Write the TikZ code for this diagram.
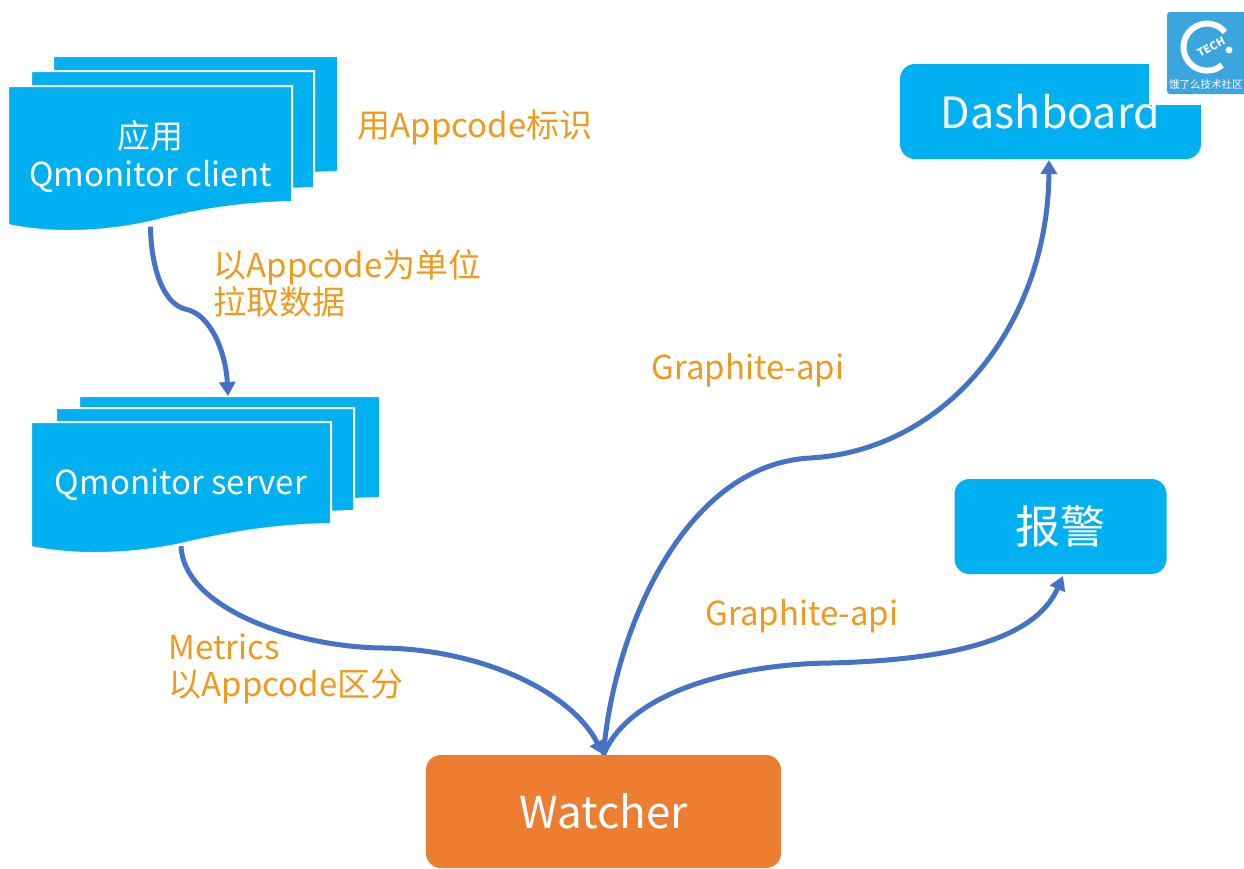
\documentclass[tikz,border=0pt]{standalone}
\usepackage{fontspec}
\setmainfont{Noto Sans CJK SC}
\usetikzlibrary{arrows.meta}

\definecolor{boxblue}{HTML}{00B0F0}
\definecolor{arrowblue}{HTML}{4472C4}
\definecolor{labelorange}{HTML}{EE9A1E}
\definecolor{watcherorange}{HTML}{ED7D31}
\definecolor{logoblue}{HTML}{3BA5E0}

\tikzset{
	flow/.style={draw=arrowblue,line width=5pt,-{Triangle[length=14pt,width=16pt]}},
	sheetbox/.style={fill=boxblue,draw=white,line width=2pt},
	sheettext/.style={text=white,align=center,font=\fontsize{33}{38}\selectfont},
	roundbox/.style={fill=boxblue,rounded corners=15pt,text=white,font=\fontsize{43}{50}\selectfont},
	note/.style={text=labelorange,align=left,anchor=west,font=\fontsize{33}{37}\selectfont},
}

% one sheet of a stack: left, top, width, height
\newcommand{\docsheet}[4]{
	\draw[sheetbox] (#1,#2) -- (#1+#3,#2) -- (#1+#3,#2+#4)
	.. controls (#1+0.8*#3,#2+#4+1) and (#1+0.64*#3,#2+#4+10) .. (#1+0.5*#3,#2+#4+20)
	.. controls (#1+0.376*#3,#2+#4+28) and (#1+0.18*#3,#2+#4+34) .. (#1,#2+#4+23) -- cycle;
}

\begin{document}
\begin{tikzpicture}[x=1pt,y=-1pt]
	\useasboundingbox (0,0) rectangle (1244,868);

	% stacks of sheets
	\foreach \x/\y/\w/\h in {53/56/285/116,31/71/283/117,8/86/284/116}
	{\docsheet{\x}{\y}{\w}{\h}}
	\foreach \x/\y/\w/\h in {79/396/301/102,56/408/298/103,31/422/300/102}
	{\docsheet{\x}{\y}{\w}{\h}}

	\node[sheettext,minimum width=283pt,minimum height=139pt] (client) at (150.5,157) {应用\\Qmonitor client};
	\node[sheettext,minimum width=298pt,minimum height=122pt] (server) at (181,485) {Qmonitor server};

	\node[roundbox,minimum width=301pt,minimum height=95pt] (dashboard) at (1050.5,111.5) {Dashboard};
	\node[roundbox,font=\fontsize{45}{50}\selectfont,minimum width=212pt,minimum height=95pt] (alert) at (1060.5,526.5) {报警};
	\node[roundbox,font=\fontsize{44}{50}\selectfont,fill=watcherorange,minimum width=355pt,minimum height=113pt] (watcher) at (603.5,811.5) {Watcher};

	\coordinate (serverin) at (228,396);
	\coordinate (dashin) at (1049,160);
	\coordinate (alertin) at (1063,576);

	% logo corner
	\fill[white] (1149,0) rectangle (1244,105);
	\fill[logoblue,rounded corners=3pt] (1167,12) rectangle (1250,94);
	\draw[white,line width=6pt] (1225,32) arc[start angle=-40,end angle=-310,radius=23.5];
	\fill[white] (1229,50) circle[radius=3.5pt];
	\node[text=white,rotate=28,inner sep=0pt,font=\bfseries\fontsize{11}{11}\selectfont] (tech) at (1211,47) {TECH};
	\node[text=white,anchor=west,inner sep=0pt,font=\fontsize{10.5}{12}\selectfont] (logotext) at (1169,84) {饿了么技术社区};

	% notes
	\node[note] (appcode) at (354,127) {用Appcode标识};
	\node[note] (pull) at (210,283) {以Appcode为单位\\拉取数据};
	\node[note] (metrics) at (165,669) {Metrics\\以Appcode区分};
	\node[note] (apidash) at (648,370) {Graphite-api};
	\node[note] (apialert) at (702,616) {Graphite-api};

	% connectors
	\draw[flow] (client.south) .. controls (151,265) and (162,303) .. (185,309)
	.. controls (212,314) and (226,355) .. (serverin);
	\draw[flow] (server.south) .. controls (184,610) and (300,648) .. (385,648)
	.. controls (480,650) and (570,690) .. (watcher.north);
	\draw[flow] (watcher.north) .. controls (612,640) and (680,465) .. (810,458)
	.. controls (950,450) and (1048,320) .. (dashin);
	\draw[flow] (watcher.north) .. controls (630,690) and (740,664) .. (830,663)
	.. controls (950,660) and (1035,640) .. (alertin);
\end{tikzpicture}
\end{document}
